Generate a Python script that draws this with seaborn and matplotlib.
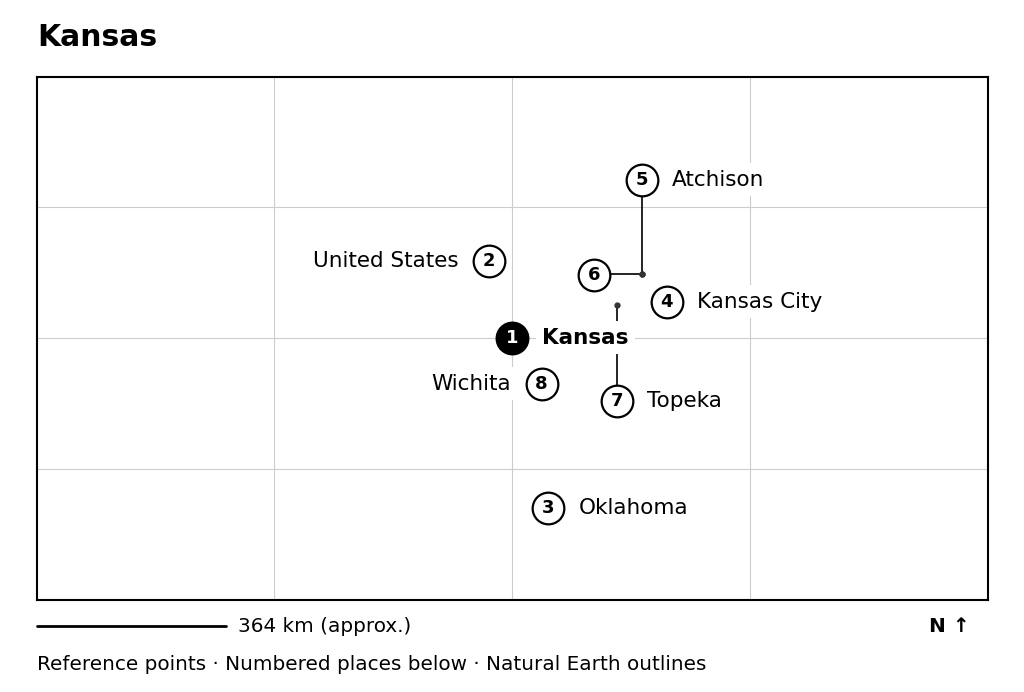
import matplotlib
matplotlib.use("Agg")
import matplotlib.pyplot as plt
import seaborn as sns

sns.set_style("white")
plt.rcParams['font.family'] = ['DejaVu Sans']
plt.rcParams['text.color'] = 'black'

# place markers (lon, lat) as drawn on the map
nums = [1, 2, 3, 4, 5, 6, 7, 8]
names = ['Kansas', 'United States', 'Oklahoma', 'Kansas City', 'Atchison', '', 'Topeka', 'Wichita']
lons = [-98.0, -98.39, -97.39, -95.40, -95.82, -96.62, -96.24, -97.50]
lats = [38.5, 39.68, 35.90, 39.05, 40.91, 39.46, 37.54, 37.80]
label_side = ['right', 'left', 'right', 'right', 'right', 'none', 'right', 'left']
# true locations for displaced markers (leader lines)
leader_from = {5: (-95.82, 39.48), 6: (-95.82, 39.48), 7: (-96.24, 39.0)}

fig = plt.figure(figsize=(10.24, 6.92), dpi=100)
ax = fig.add_axes([37/1024, 1-600/692, 951/1024, 523/692])
ax.set_xlim(-105.98, -90.0)
ax.set_ylim(34.5, 42.48)
ax.set_xticks([-102, -98, -94])
ax.set_yticks([36.5, 38.5, 40.5])
ax.tick_params(length=0, labelbottom=False, labelleft=False)
ax.grid(True, color='#cccccc', lw=0.8)
for s in ax.spines.values():
    s.set_linewidth(1.5)
    s.set_color('black')

for n, (x0, y0) in leader_from.items():
    i = nums.index(n)
    if n == 6:
        ax.plot([x0, lons[i]], [y0, y0], color='black', lw=1.2, zorder=2)
    else:
        ax.plot([x0, lons[i]], [y0, lats[i]], color='black', lw=1.2, zorder=2)
    ax.plot(x0, y0, 'o', color='#333333', ms=3.5, zorder=3)

for n, name, x, y, side in zip(nums, names, lons, lats, label_side):
    main = n == 1
    ax.scatter(x, y, s=520, facecolor='black' if main else 'white',
               edgecolor='black', linewidth=1.6, zorder=5)
    ax.text(x, y, str(n), ha='center', va='center', fontsize=13, fontweight='bold',
            color='white' if main else 'black', zorder=6)
    if side == 'none':
        continue
    off = 22 if side == 'right' else -22
    ax.annotate(name, (x, y), xytext=(off, 0), textcoords='offset points',
                ha='left' if side == 'right' else 'right', va='center', fontsize=15.5,
                fontweight='bold' if main else 'normal', zorder=7,
                bbox=dict(boxstyle='square,pad=0.3', fc='white', ec='none'))

fig.text(37/1024, 1-37/692, 'Kansas', fontsize=21.5, fontweight='bold', va='center')
fig.add_artist(plt.Line2D([37/1024, 226/1024], [1-626/692, 1-626/692], color='black', lw=2))
fig.text(238/1024, 1-626/692, '364 km (approx.)', fontsize=14.4, va='center')
fig.text(970/1024, 1-626/692, 'N ↑', fontsize=14.4, fontweight='bold', va='center', ha='right')
fig.text(37/1024, 1-664/692, 'Reference points · Numbered places below · Natural Earth outlines',
         fontsize=14.4, va='center')

fig.savefig('out.png', dpi=100)
